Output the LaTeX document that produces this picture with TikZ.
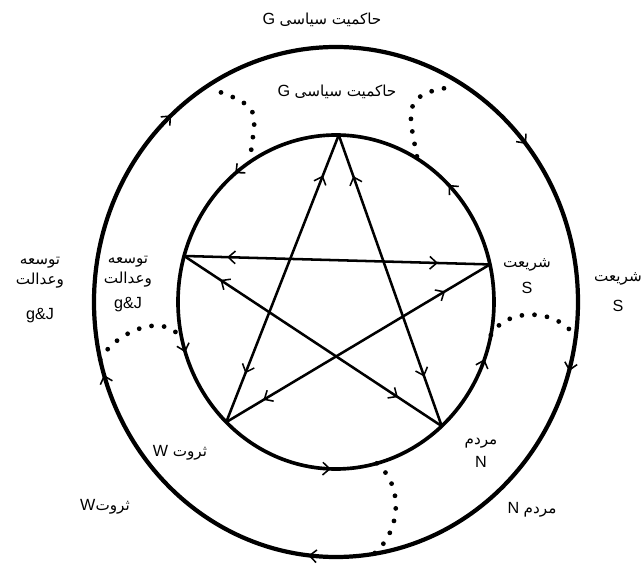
\documentclass[tikz,border=0pt]{standalone}
\usepackage{fontspec}
\setmainfont{Liberation Sans}
\newfontfamily\arabicfont[Script=Arabic]{DejaVu Sans}
\TeXXeTstate=1
\usetikzlibrary{arrows.meta,decorations.markings}
\newcommand{\fa}[1]{{\arabicfont\fontsize{10.8}{14}\selectfont\beginR #1\endR}}
\begin{document}
\begin{tikzpicture}[x=0.025cm,y=0.025cm,
    >={Straight Barb[length=5pt,width=9pt,line width=1.1pt]},
    starline/.style={line width=1.8pt,postaction={decorate},
      decoration={markings,
        mark=at position 0.17 with {\arrow{<}},
        mark=at position 0.83 with {\arrow{>}}}},
    dotlink/.style={line width=3.4pt,line cap=round,dash pattern=on 0pt off 9pt},
    lbl/.style={font=\fontsize{11.5}{14}\selectfont,align=center,inner sep=0pt}]
    \useasboundingbox (-336,-265) rectangle (305,302);
    \coordinate (c) at (0,0);
    \draw [line width=3pt,postaction={decorate},decoration={markings,
        mark=at position 0.114 with {\arrow{<}},
        mark=at position 0.373 with {\arrow{<}},
        mark=at position 0.553 with {\arrow{<}},
        mark=at position 0.738 with {\arrow{<}},
        mark=at position 0.961 with {\arrow{<}}}]
        (c) ellipse [x radius=242,y radius=255];
    \draw [line width=2.6pt,postaction={decorate},decoration={markings,
        mark=at position 0.126 with {\arrow{>}},
        mark=at position 0.358 with {\arrow{>}},
        mark=at position 0.55 with {\arrow{>}},
        mark=at position 0.745 with {\arrow{>}},
        mark=at position 0.943 with {\arrow{>}}}]
        (c) ellipse [x radius=158,y radius=167];
    \coordinate (pT) at (89:158 and 167);
    \coordinate (pL) at (164:158 and 167);
    \coordinate (pR) at (13:158 and 167);
    \coordinate (pBL) at (226:158 and 167);
    \coordinate (pBR) at (312:158 and 167);
    \foreach \a/\b in {pT/pBL,pT/pBR,pL/pR,pL/pBR,pBL/pR}
        \draw [starline] (\a) -- (\b);
    \coordinate (oUL) at (120:230 and 242);
    \coordinate (iUL) at (123:158 and 167);
    \coordinate (oUR) at (62:230 and 242);
    \coordinate (iUR) at (59:158 and 167);
    \coordinate (iR) at (348.6:158 and 167);
    \coordinate (oR) at (352:242 and 255);
    \coordinate (oL) at (193:242 and 255);
    \coordinate (iL) at (193:158 and 167);
    \coordinate (iB) at (285:158 and 167);
    \coordinate (oB) at (279:242 and 255);
    \draw [dotlink] (oUL) to[out=-20,in=85,looseness=1.6] (iUL);
    \draw [dotlink] (oUR) to[out=190,in=100,looseness=1.5] (iUR);
    \draw [dotlink] (iR) to[out=60,in=120] (oR);
    \draw [dotlink] (oL) to[out=60,in=120] (iL);
    \draw [dotlink] (iB) to[out=-40,in=40] (oB);
    \node [lbl] (gOut) at (-14,282) {G \fa{حاکمیت سیاسی}};
    \node [lbl] (gIn) at (1,210) {G \fa{حاکمیت سیاسی}};
    \node [lbl] (jOut) at (-296,12) {\fa{توسعه}\\\fa{وعدالت}\\[11pt]g\&J};
    \node [lbl] (jIn) at (-208,18) {\fa{توسعه}\\\fa{وعدالت}\\[4pt]g\&J};
    \node [lbl] (sIn) at (191,26) {\fa{شریعت}\\[5pt]S};
    \node [lbl] (sOut) at (282,10) {\fa{شریعت}\\[7pt]S};
    \node [lbl] (nIn) at (145,-151) {\fa{مردم}\\[2pt]N};
    \node [lbl] (nOut) at (196,-208) {N \fa{مردم}};
    \node [lbl] (wIn) at (-156,-151) {W \fa{ثروت}};
    \node [lbl] (wOut) at (-231,-205) {W\fa{ثروت}};
\end{tikzpicture}
\end{document}
